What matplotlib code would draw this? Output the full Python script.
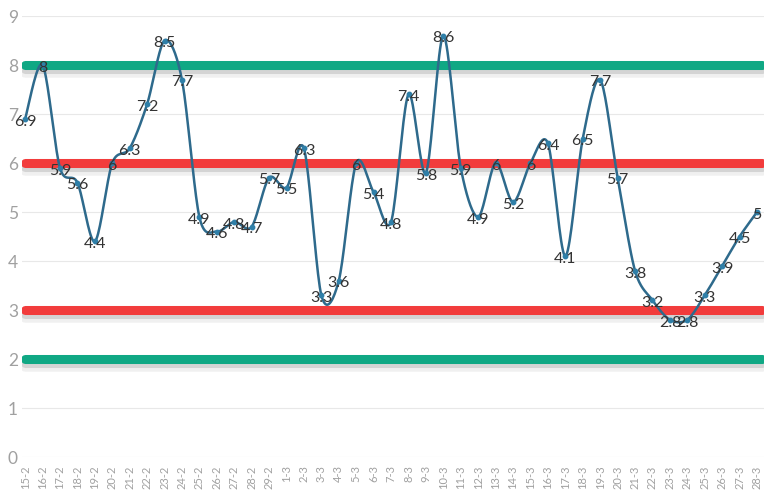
import numpy as np
import matplotlib
matplotlib.use("Agg")
import matplotlib.pyplot as plt
import matplotlib.patheffects as pe

plt.rcParams['font.family'] = ['Lato', 'DejaVu Sans']

dates = ['15-2', '16-2', '17-2', '18-2', '19-2', '20-2', '21-2', '22-2', '23-2', '24-2',
         '25-2', '26-2', '27-2', '28-2', '29-2', '1-3', '2-3', '3-3', '4-3', '5-3',
         '6-3', '7-3', '8-3', '9-3', '10-3', '11-3', '12-3', '13-3', '14-3', '15-3',
         '16-3', '17-3', '18-3', '19-3', '20-3', '21-3', '22-3', '23-3', '24-3', '25-3',
         '26-3', '27-3', '28-3']
values = [6.9, 8, 5.9, 5.6, 4.4, 6, 6.3, 7.2, 8.5, 7.7,
          4.9, 4.6, 4.8, 4.7, 5.7, 5.5, 6.3, 3.3, 3.6, 6,
          5.4, 4.8, 7.4, 5.8, 8.6, 5.9, 4.9, 6, 5.2, 6,
          6.4, 4.1, 6.5, 7.7, 5.7, 3.8, 3.2, 2.8, 2.8, 3.3,
          3.9, 4.5, 5]
green_levels = [8, 2]
red_levels = [6, 3]

fig = plt.figure(figsize=(7.64, 4.93), dpi=100)
ax = fig.add_axes([0.029, 0.073, 0.971, 0.8945])

x = np.arange(len(values))
y = np.array(values, dtype=float)

# smooth curve through the points (bezier with limited tension)
def smooth(xs, ys, n=20, t=0.3):
    px, py = [], []
    N = len(xs)
    for i in range(N - 1):
        x0, y0 = xs[max(i - 1, 0)], ys[max(i - 1, 0)]
        x1, y1 = xs[i], ys[i]
        x2, y2 = xs[i + 1], ys[i + 1]
        x3, y3 = xs[min(i + 2, N - 1)], ys[min(i + 2, N - 1)]
        c1x = x1 + (x2 - x0) * t / 2
        c1y = y1 + (y2 - y0) * t / 2
        c2x = x2 - (x3 - x1) * t / 2
        c2y = y2 - (y3 - y1) * t / 2
        s = np.linspace(0, 1, n, endpoint=False)
        bx = (1 - s) ** 3 * x1 + 3 * (1 - s) ** 2 * s * c1x + 3 * (1 - s) * s ** 2 * c2x + s ** 3 * x2
        by = (1 - s) ** 3 * y1 + 3 * (1 - s) ** 2 * s * c1y + 3 * (1 - s) * s ** 2 * c2y + s ** 3 * y2
        px.extend(bx); py.extend(by)
    px.append(xs[-1]); py.append(ys[-1])
    return np.array(px), np.array(py)

ax.set_xlim(-0.17, 42.4)
ax.set_ylim(0, 9)

for v in range(0, 10):
    ax.axhline(v, color='#e8e8e8', lw=0.8, zorder=0)

shadow = [pe.SimpleLineShadow(offset=(0, -4), shadow_color='#888888', alpha=0.12, linewidth=9),
          pe.SimpleLineShadow(offset=(0, -3), shadow_color='#666666', alpha=0.2),
          pe.Normal()]
for lv in green_levels:
    ax.plot([0, 42.3], [lv, lv], color='#10a884', lw=6.5, solid_capstyle='round',
            zorder=3, path_effects=shadow)
for lv in red_levels:
    ax.plot([0, 42.3], [lv, lv], color='#f23c3c', lw=6.5, solid_capstyle='round',
            zorder=3, path_effects=shadow)

sx, sy = smooth(x, y)
ax.plot(sx, sy, color='#2e6a8c', lw=1.8, zorder=4)
ax.plot(x, y, 'o', color='#2f7fa8', ms=3.2, zorder=5)

for xi, yi in zip(x, y):
    lab = ('%g' % yi)
    ax.annotate(lab, (xi, yi), xytext=(0, -2), textcoords='offset points',
                ha='center', va='center', fontsize=11.5, color='#333333', zorder=6)

ax.set_yticks(range(0, 10))
ax.set_xticks(x)
ax.set_xticklabels(dates, rotation=90, fontsize=8, color='#a0a0a0')
ax.tick_params(axis='y', labelsize=12.5, colors='#a0a0a0', length=0, pad=3)
ax.tick_params(axis='x', length=0, pad=6)
for s in ax.spines.values():
    s.set_visible(False)

fig.savefig('out.png', dpi=100)
